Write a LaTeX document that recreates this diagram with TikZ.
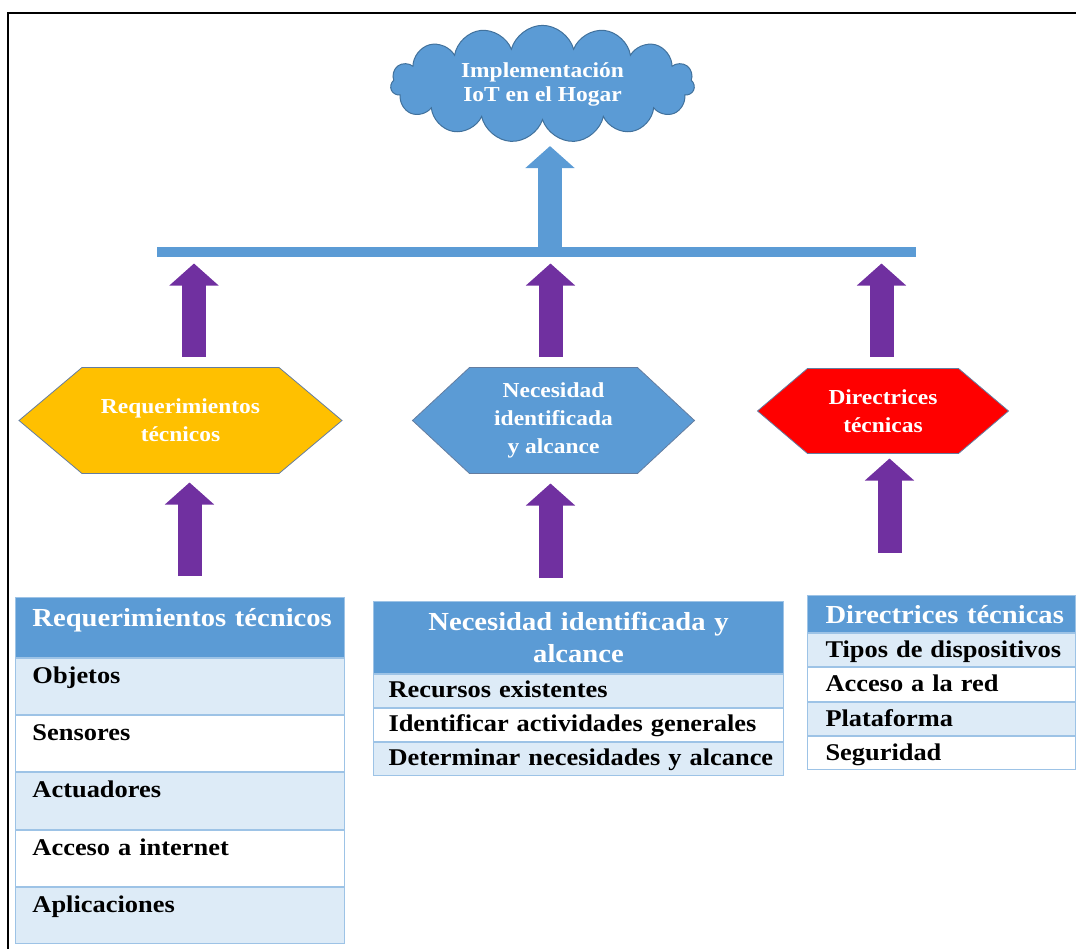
\documentclass[tikz,border=0pt]{standalone}
\usepackage{fontspec}
\setmainfont[FakeStretch=1.1]{Liberation Serif}
\usetikzlibrary{arrows.meta,positioning,shapes.symbols,backgrounds}

\definecolor{ofblue}{RGB}{91,155,213}
\definecolor{clouddark}{RGB}{65,113,156}
\definecolor{arrpurple}{RGB}{112,48,160}
\definecolor{hexyellow}{RGB}{255,192,0}
\definecolor{hexred}{RGB}{255,0,0}
\definecolor{hexline}{RGB}{100,125,160}
\definecolor{rowlight}{RGB}{221,235,247}
\definecolor{cellline}{RGB}{157,195,230}

\tikzset{every picture/.style={line width=0.75pt}}
\tikzset{
hexbox/.style={inner sep=0pt, minimum height=78.75pt, text=white, align=center, font=\fontsize{16}{21}\selectfont\bfseries},
hexshape/.style={draw=hexline, line width=0.6pt},
fatarrow/.style={line width=18pt, -{Triangle[width=36pt,length=16.5pt]}},
cell/.style={draw=cellline, inner ysep=0pt, align=left, anchor=north west},
headcell/.style={cell, fill=ofblue, text=white, font=\fontsize{19.5}{24}\selectfont\bfseries},
rowcell/.style={cell, font=\fontsize{18}{22}\selectfont\bfseries},
shaded/.style={fill=rowlight},
plain/.style={fill=white},
tabone/.style={inner xsep=12.75pt, text width=221.25pt},
tabtwo/.style={inner xsep=11.25pt, text width=285pt},
tabthree/.style={inner xsep=13.5pt, text width=174pt},
rowone/.style={text height=18.75pt, text depth=23.4pt},
rowtwo/.style={text height=17.25pt, text depth=7.5pt},
rowthree/.style={text height=18pt, text depth=6.94pt}
}

\begin{document}
\begin{tikzpicture}[x=0.75pt,y=0.75pt,yscale=-1,xscale=1]
\useasboundingbox (0,0) rectangle (1076,949);

%Frame
\draw [line width=1.5pt] (8,949) -- (8,13) -- (1076,13) ;

%Cloud
\node [cloud, cloud puffs=15, aspect=2.8, fill=ofblue, draw=clouddark, minimum width=228pt, minimum height=70pt, inner sep=0pt, text=white, align=center, font=\fontsize{16}{18}\selectfont\bfseries] (home) at (542.5,84) {Implementación\\IoT en el Hogar};
%Bar
\node [fill=ofblue, minimum width=569.25pt, minimum height=7.5pt, inner sep=0pt] (bar) at (536.5,252) {};

%Hexagons
\node [hexbox, minimum width=147pt] (reqhex) at (180.5,420.5) {Requerimientos\\técnicos};
\node [hexbox, minimum width=125.25pt] (needhex) at (553.5,420.5) {Necesidad\\identificada\\y alcance};
\node [hexbox, minimum width=112.5pt, minimum height=63pt] (dirhex) at (883,411) {Directrices\\técnicas};

\begin{scope}[on background layer]
\draw [hexshape, fill=hexyellow] (reqhex.north west) -- (reqhex.north east) -- ([xshift=47.25pt]reqhex.east) -- (reqhex.south east) -- (reqhex.south west) -- ([xshift=-47.25pt]reqhex.west) -- cycle ;
\draw [hexshape, fill=ofblue] (needhex.north west) -- (needhex.north east) -- ([xshift=42.75pt]needhex.east) -- (needhex.south east) -- (needhex.south west) -- ([xshift=-42.75pt]needhex.west) -- cycle ;
\draw [hexshape, fill=hexred] (dirhex.north west) -- (dirhex.north east) -- ([xshift=37.5pt]dirhex.east) -- (dirhex.south east) -- (dirhex.south west) -- ([xshift=-37.5pt]dirhex.west) -- cycle ;
\end{scope}

%Table: Requerimientos
\node [headcell, tabone, text height=21.75pt, text depth=23.25pt] (reqhead) at (15,597) {\mbox{Requerimientos técnicos}};
\node [rowcell, tabone, rowone, shaded, below=0pt of reqhead] (reqobj) {Objetos};
\node [rowcell, tabone, rowone, plain, below=0pt of reqobj] (reqsen) {Sensores};
\node [rowcell, tabone, rowone, shaded, below=0pt of reqsen] (reqact) {Actuadores};
\node [rowcell, tabone, rowone, plain, below=0pt of reqact] (reqnet) {Acceso a internet};
\node [rowcell, tabone, rowone, shaded, below=0pt of reqnet] (reqapp) {Aplicaciones};

%Table: Necesidad
\node [headcell, tabtwo, align=center, minimum height=54pt] (needhead) at (373,601) {Necesidad identificada y\\alcance};
\node [rowcell, tabtwo, rowtwo, shaded, below=0pt of needhead] (needres) {Recursos existentes};
\node [rowcell, tabtwo, rowtwo, plain, below=0pt of needres] (needact) {\mbox{Identificar actividades generales}};
\node [rowcell, tabtwo, rowtwo, shaded, below=0pt of needact] (needdet) {\mbox{Determinar necesidades y alcance}};

%Table: Directrices
\node [headcell, tabthree, text height=21pt, text depth=6.75pt] (dirhead) at (807,595) {\mbox{Directrices técnicas}};
\node [rowcell, tabthree, rowthree, shaded, below=0pt of dirhead] (dirtyp) {\mbox{Tipos de dispositivos}};
\node [rowcell, tabthree, rowthree, plain, below=0pt of dirtyp] (dirred) {Acceso a la red};
\node [rowcell, tabthree, rowthree, shaded, below=0pt of dirred] (dirpla) {Plataforma};
\node [rowcell, tabthree, rowthree, plain, below=0pt of dirpla] (dirseg) {Seguridad};

%Arrows into the bar
\coordinate (reqout) at ([xshift=10.125pt]reqhex.north);
\coordinate (needout) at ([xshift=-2.25pt]needhex.north);
\coordinate (dirout) at ([xshift=-1.125pt]dirhex.north);
\draw [fatarrow, arrpurple, shorten <=8.25pt, shorten >=4.5pt] (reqout) -- (reqout |- bar.south);
\draw [fatarrow, arrpurple, shorten <=8.25pt, shorten >=4.5pt] (needout) -- (needout |- bar.south);
\draw [fatarrow, arrpurple, shorten <=9pt, shorten >=4.5pt] (dirout) -- (dirout |- bar.south);

%Arrows from the tables
\coordinate (reqin) at ([xshift=6.75pt]reqhex.south);
\coordinate (needin) at ([xshift=-2.25pt]needhex.south);
\coordinate (dirin) at ([xshift=4.875pt]dirhex.south);
\draw [fatarrow, arrpurple, shorten <=15.75pt, shorten >=6.75pt] (reqin |- reqhead.north) -- (reqin);
\draw [fatarrow, arrpurple, shorten <=17.25pt, shorten >=7.5pt] (needin |- needhead.north) -- (needin);
\draw [fatarrow, arrpurple, shorten <=31.5pt, shorten >=3.75pt] (dirin |- dirhead.north) -- (dirin);

%Arrow to the cloud
\coordinate (homein) at ([xshift=5.625pt,yshift=18.75pt]home.south);
\draw [fatarrow, ofblue] (homein |- bar.north) -- (homein);

\end{tikzpicture}
\end{document}
